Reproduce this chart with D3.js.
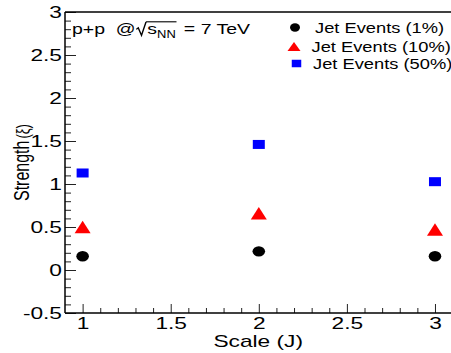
<!DOCTYPE html>
<html><head><meta charset="utf-8">
<script src="https://cdn.jsdelivr.net/npm/d3@7"></script>
<style>
html,body{margin:0;padding:0;background:#fff;overflow:hidden}
svg{display:block;font-family:"Liberation Sans",Arial,Helvetica,sans-serif}
</style></head><body>
<svg id="c" width="451" height="353"></svg>
<script>
const scales = [1, 2, 3];
const jet1 = [0.16, 0.217, 0.16];
const jet10 = [0.50, 0.66, 0.47];
const jet50 = [1.128, 1.46, 1.027];
const xMajor = [1, 1.5, 2, 2.5, 3];
const xLabels = ["1", "1.5", "2", "2.5", "3"];
const yMajor = [-0.5, 0, 0.5, 1, 1.5, 2, 2.5, 3];
const yLabels = ["-0.5", "0", "0.5", "1", "1.5", "2", "2.5", "3"];
const legendLabels = ["Jet Events (1%)", "Jet Events (10%)", "Jet Events (50%)"];
const colors = ["#000000", "#ff0000", "#0000ff"];

const SX = 1.42; // horizontal stretch of glyphs in the reference
const svg = d3.select("#c");
const L = 65, T = 12, B = 313;
const x = d3.scaleLinear().domain([0.9, 3.1]).range([L, 452.6]);
const y = d3.scaleLinear().domain([-0.5, 3]).range([B, T]);

// minor ticks
const xMinor = d3.range(10, 31).map(v => v / 10).filter(v => !xMajor.some(m => Math.abs(m - v) < 1e-6));
const yMinor = d3.range(-5, 31).map(v => v / 10).filter(v => !yMajor.some(m => Math.abs(m - v) < 1e-6));

const gxm = svg.append("g").attr("transform", `translate(0,${B})`)
  .call(d3.axisBottom(x).tickValues(xMinor).tickSize(-5).tickFormat(""));
const gx = svg.append("g").attr("transform", `translate(0,${B})`)
  .call(d3.axisBottom(x).tickValues(xMajor).tickSize(-9).tickPadding(0).tickFormat((d, i) => xLabels[i]));
const gym = svg.append("g").attr("transform", `translate(${L},0)`)
  .call(d3.axisLeft(y).tickValues(yMinor).tickSize(-6).tickFormat(""));
const gy = svg.append("g").attr("transform", `translate(${L},0)`)
  .call(d3.axisLeft(y).tickValues(yMajor).tickSize(-11).tickPadding(0).tickFormat((d, i) => yLabels[i]));

[gxm, gx, gym, gy].forEach(g => {
  g.select(".domain").remove();
  g.selectAll(".tick line").attr("stroke", "#222").attr("stroke-width", 1);
});
gx.selectAll(".tick text").attr("x", null).attr("y", null).attr("dy", null)
  .attr("font-size", 16).attr("fill", "#000").attr("text-anchor", "middle")
  .attr("transform", `translate(0,15.5) scale(${SX},1)`);
gy.selectAll(".tick text").attr("x", null).attr("dy", null)
  .attr("font-size", 16).attr("fill", "#000").attr("text-anchor", "end")
  .attr("transform", `translate(-3,5.8) scale(${SX},1)`);

// frame
svg.append("line").attr("x1", L).attr("x2", L).attr("y1", T).attr("y2", B).attr("stroke", "#000").attr("stroke-width", 1.5);
svg.append("line").attr("x1", L).attr("x2", 451).attr("y1", B).attr("y2", B).attr("stroke", "#000").attr("stroke-width", 1.5);
svg.append("line").attr("x1", L).attr("x2", 451).attr("y1", T).attr("y2", T).attr("stroke", "#000").attr("stroke-width", 1.5);

// markers
function circle(g, cx, cy, rx, ry, c) { g.append("ellipse").attr("cx", cx).attr("cy", cy).attr("rx", rx).attr("ry", ry).attr("fill", c); }
function tri(g, cx, cy, w, h, c) { g.append("path").attr("d", `M${cx - w / 2},${cy + h / 2}L${cx + w / 2},${cy + h / 2}L${cx},${cy - h / 2}Z`).attr("fill", c); }
function sq(g, cx, cy, w, h, c) { g.append("rect").attr("x", cx - w / 2).attr("y", cy - h / 2).attr("width", w).attr("height", h).attr("fill", c); }

const pts = svg.append("g");
scales.forEach((s, i) => {
  circle(pts, x(s), y(jet1[i]), 6.3, 5.2, colors[0]);
  tri(pts, x(s), y(jet10[i]), 16, 12.5, colors[1]);
  sq(pts, x(s), y(jet50[i]), 12, 9, colors[2]);
});

// legend
const lg = svg.append("g");
const rowsY = [27.5, 46.5, 63.5];
circle(lg, 295, rowsY[0], 5, 4.2, colors[0]);
tri(lg, 294, rowsY[1], 13, 9, colors[1]);
sq(lg, 296.5, rowsY[2], 9.5, 7.5, colors[2]);
const textX = [315, 311.5, 313];
legendLabels.forEach((t, i) => {
  lg.append("text").attr("transform", `translate(${textX[i]},${rowsY[i] + 5}) scale(1.22,1)`)
    .attr("font-size", 15).attr("fill", "#000").text(t);
});

// p+p annotation
const ann = svg.append("g").attr("transform", `translate(72,34.3) scale(1.3,1)`);
let cx = 0;
function piece(t, fs, dy) {
  const el = ann.append("text").attr("x", cx).attr("y", dy || 0).attr("font-size", fs).attr("fill", "#000")
    .attr("xml:space", "preserve").style("white-space", "pre").text(t);
  const w = el.node().getComputedTextLength();
  const x0 = cx; cx += w; return [x0, cx];
}
piece("p+p  @", 15);
const r0 = cx;
ann.append("path").attr("d", `M${r0 + 0.5},${-5} L${r0 + 2},${-6.5} L${r0 + 4.5},${1} L${r0 + 8},${-12.5}`)
  .attr("fill", "none").attr("stroke", "#000").attr("stroke-width", 1.1);
cx += 9;
piece("s", 15);
piece("NN", 10, 3.5);
ann.append("line").attr("x1", r0 + 8).attr("x2", cx + 0.5).attr("y1", -12.5).attr("y2", -12.5).attr("stroke", "#000").attr("stroke-width", 1.1);
cx += 2;
piece(" = 7 TeV", 15);

// axis titles
svg.append("text").attr("transform", `translate(303,346.5) scale(${SX},1)`)
  .attr("font-size", 16).attr("text-anchor", "end").attr("fill", "#000").text("Scale (J)");
const yt = svg.append("text").attr("transform", `translate(29,201) scale(${SX},1) rotate(-90)`)
  .attr("font-size", 16).attr("fill", "#000");
yt.append("tspan").text("Strength");
yt.append("tspan").attr("font-size", 13).attr("dx", 2).text("(ξ)");
</script>
</body></html>
